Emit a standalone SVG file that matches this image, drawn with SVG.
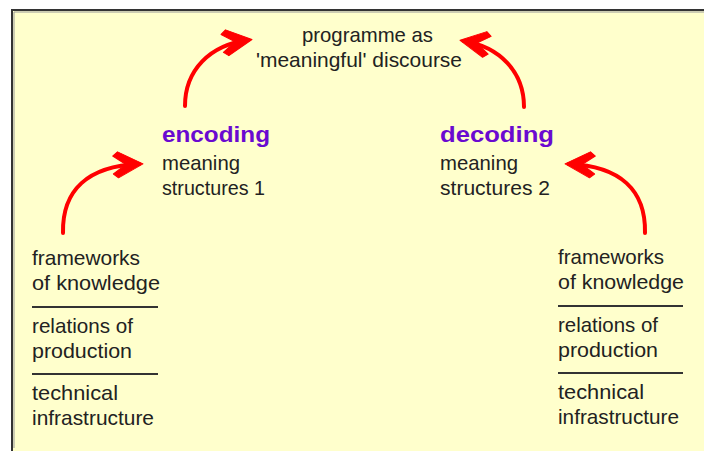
<svg xmlns="http://www.w3.org/2000/svg" width="704" height="451" viewBox="0 0 704 451">
  <style>
    .t { font-family: "Liberation Sans", Arial, sans-serif; font-size: 21px; fill: #222; }
    .k { font-family: "Liberation Sans", Arial, sans-serif; font-size: 22px; font-weight: bold; fill: #6a0ad0; }
    .sep { stroke: #333; stroke-width: 2; }
    .arc { fill: none; stroke: #ff0000; stroke-width: 4; stroke-linecap: round; marker-end: url(#head); }
  </style>
  <defs>
    <marker id="head" markerUnits="userSpaceOnUse" orient="auto" viewBox="-30 -16 35 32" refX="0" refY="0" markerWidth="35" markerHeight="32">
      <path d="M4,0 L-21,-13 L-26,-9 L-13,0 L-26,9 L-21,13 Z" fill="#ff0000" stroke="#ff0000" stroke-width="1" stroke-linejoin="round"/>
    </marker>
  </defs>

  <!-- page background and panel frame -->
  <rect x="0" y="0" width="704" height="451" fill="#ffffff"/>
  <rect x="12" y="10" width="720" height="470" fill="#ffffcc" stroke="#333" stroke-width="2"/>
  <path d="M14,448 V12 H704" fill="none" stroke="#999" stroke-width="1"/>

  <g id="programme">
    <text class="t" x="302" y="42" textLength="131" lengthAdjust="spacingAndGlyphs">programme as</text>
    <text class="t" x="256" y="67" textLength="206" lengthAdjust="spacingAndGlyphs">'meaningful' discourse</text>
  </g>

  <g id="encoding">
    <text class="k" x="162" y="142" textLength="108" lengthAdjust="spacingAndGlyphs">encoding</text>
    <text class="t" x="162" y="170" textLength="78" lengthAdjust="spacingAndGlyphs">meaning</text>
    <text class="t" x="162" y="195" textLength="103" lengthAdjust="spacingAndGlyphs">structures 1</text>
  </g>

  <g id="decoding">
    <text class="k" x="440" y="142" textLength="114" lengthAdjust="spacingAndGlyphs">decoding</text>
    <text class="t" x="440" y="170" textLength="78" lengthAdjust="spacingAndGlyphs">meaning</text>
    <text class="t" x="440" y="195" textLength="110" lengthAdjust="spacingAndGlyphs">structures 2</text>
  </g>

  <g id="production-base">
    <text class="t" x="32" y="265" textLength="108" lengthAdjust="spacingAndGlyphs">frameworks</text>
    <text class="t" x="32" y="290" textLength="128" lengthAdjust="spacingAndGlyphs">of knowledge</text>
    <line class="sep" x1="32" y1="307" x2="158" y2="307"/>
    <text class="t" x="32" y="333" textLength="101" lengthAdjust="spacingAndGlyphs">relations of</text>
    <text class="t" x="32" y="358" textLength="100" lengthAdjust="spacingAndGlyphs">production</text>
    <line class="sep" x1="32" y1="374" x2="158" y2="374"/>
    <text class="t" x="32" y="400" textLength="86" lengthAdjust="spacingAndGlyphs">technical</text>
    <text class="t" x="32" y="425" textLength="122" lengthAdjust="spacingAndGlyphs">infrastructure</text>
  </g>

  <g id="reception-base">
    <text class="t" x="558" y="264" textLength="106" lengthAdjust="spacingAndGlyphs">frameworks</text>
    <text class="t" x="558" y="289" textLength="126" lengthAdjust="spacingAndGlyphs">of knowledge</text>
    <line class="sep" x1="558" y1="306" x2="683" y2="306"/>
    <text class="t" x="558" y="332" textLength="100" lengthAdjust="spacingAndGlyphs">relations of</text>
    <text class="t" x="558" y="357" textLength="100" lengthAdjust="spacingAndGlyphs">production</text>
    <line class="sep" x1="558" y1="373" x2="683" y2="373"/>
    <text class="t" x="558" y="399" textLength="86" lengthAdjust="spacingAndGlyphs">technical</text>
    <text class="t" x="558" y="424" textLength="121" lengthAdjust="spacingAndGlyphs">infrastructure</text>
  </g>

  <g id="connectors">
    <path class="arc" d="M63,233 C62,190 88,166 139,164"/>
    <path class="arc" d="M185,106 C185,70 210,45 248,40"/>
    <path class="arc" d="M524,107 C524,72 500,47 464,41"/>
    <path class="arc" d="M645,233 C646,190 620,166 569,164"/>
  </g>
</svg>
